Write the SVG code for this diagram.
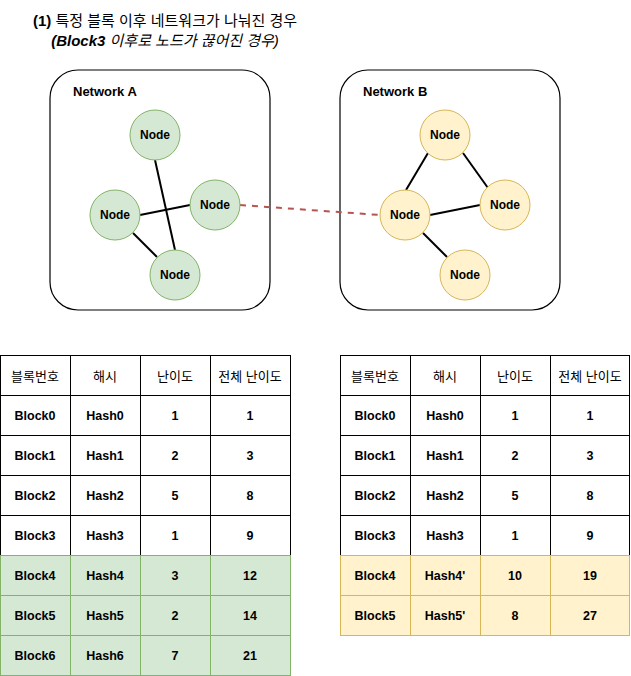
<svg xmlns="http://www.w3.org/2000/svg" width="631" height="676" viewBox="0 0 631 676">
<defs>
<style>
text{font-family:"Liberation Sans","Noto Sans CJK KR",sans-serif;text-anchor:middle;dominant-baseline:central;fill:#000}
.net{fill:#fff;stroke:#000;stroke-width:1.2}
.nl{font-size:13px;font-weight:bold;text-anchor:start}
.ga{fill:#d5e8d4;stroke:#82b366}
.yb{fill:#fff2cc;stroke:#d6b656}
.nt{font-size:12px;font-weight:bold}
.edge{stroke:#000;stroke-width:2;fill:none}
.cw{fill:#fff;stroke:#000}
.cg{fill:#d5e8d4;stroke:#82b366}
.cy{fill:#fff2cc;stroke:#d6b656}
.th{font-size:13px}
.td{font-size:12.5px;font-weight:bold}
</style>
</defs>
<rect width="631" height="676" fill="#fff"/>
<g id="title">
<text x="165" y="20" font-size="15"><tspan font-weight="bold">(1)</tspan> 특정 블록 이후 네트워크가 나눠진 경우</text>
<text x="165" y="40" font-size="15" font-style="italic"><tspan font-weight="bold">(Block3</tspan> 이후로 노드가 끊어진 경우)</text>
</g>
<g id="networkA"><rect class="net" x="50" y="70" width="220" height="240" rx="28"/><text class="nl" x="73" y="91">Network A</text></g>
<g id="networkB"><rect class="net" x="340" y="70" width="220" height="240" rx="28"/><text class="nl" x="363" y="91">Network B</text></g>
<g id="connectors">
<line class="edge" x1="155" y1="160" x2="175" y2="250"/>
<line class="edge" x1="140" y1="215" x2="190" y2="205"/>
<line class="edge" x1="133" y1="233" x2="157" y2="257"/>
<line class="edge" x1="428" y1="153" x2="406" y2="190"/>
<line class="edge" x1="463" y1="153" x2="488" y2="188"/>
<line class="edge" x1="430" y1="215" x2="480" y2="205"/>
<line class="edge" x1="423" y1="233" x2="447" y2="257"/>
<line x1="240" y1="205" x2="380" y2="215" stroke="#b85450" stroke-width="2" stroke-dasharray="6 6"/>
</g>
<g id="a1"><circle class="ga" cx="155" cy="135" r="25"/><text class="nt" x="155" y="135">Node</text></g>
<g id="a2"><circle class="ga" cx="215" cy="205" r="25"/><text class="nt" x="215" y="205">Node</text></g>
<g id="a3"><circle class="ga" cx="115" cy="215" r="25"/><text class="nt" x="115" y="215">Node</text></g>
<g id="a4"><circle class="ga" cx="175" cy="275" r="25"/><text class="nt" x="175" y="275">Node</text></g>
<g id="b1"><circle class="yb" cx="445" cy="135" r="25"/><text class="nt" x="445" y="135">Node</text></g>
<g id="b2"><circle class="yb" cx="505" cy="205" r="25"/><text class="nt" x="505" y="205">Node</text></g>
<g id="b3"><circle class="yb" cx="405" cy="215" r="25"/><text class="nt" x="405" y="215">Node</text></g>
<g id="b4"><circle class="yb" cx="465" cy="275" r="25"/><text class="nt" x="465" y="275">Node</text></g>
<g id="tableA">
<rect class="cw" x="0.5" y="355.5" width="70" height="200"/><rect class="cw" x="70.5" y="355.5" width="70" height="200"/><rect class="cw" x="140.5" y="355.5" width="70" height="200"/><rect class="cw" x="210.5" y="355.5" width="80" height="200"/>
<line x1="0" y1="395.5" x2="291" y2="395.5" stroke="#000"/><line x1="0" y1="435.5" x2="291" y2="435.5" stroke="#000"/><line x1="0" y1="475.5" x2="291" y2="475.5" stroke="#000"/><line x1="0" y1="515.5" x2="291" y2="515.5" stroke="#000"/>
<rect class="cg" x="0.5" y="555.5" width="290" height="120"/>
<line x1="0" y1="595.5" x2="291" y2="595.5" stroke="#82b366"/><line x1="0" y1="635.5" x2="291" y2="635.5" stroke="#82b366"/>
<line x1="70.5" y1="555.5" x2="70.5" y2="675.5" stroke="#82b366"/><line x1="140.5" y1="555.5" x2="140.5" y2="675.5" stroke="#82b366"/><line x1="210.5" y1="555.5" x2="210.5" y2="675.5" stroke="#82b366"/>
<text class="th" x="35" y="376">블록번호</text><text class="th" x="105" y="376">해시</text><text class="th" x="175" y="376">난이도</text><text class="th" x="250" y="376">전체 난이도</text>
<text class="td" x="35" y="416">Block0</text><text class="td" x="105" y="416">Hash0</text><text class="td" x="175" y="416">1</text><text class="td" x="250" y="416">1</text>
<text class="td" x="35" y="456">Block1</text><text class="td" x="105" y="456">Hash1</text><text class="td" x="175" y="456">2</text><text class="td" x="250" y="456">3</text>
<text class="td" x="35" y="496">Block2</text><text class="td" x="105" y="496">Hash2</text><text class="td" x="175" y="496">5</text><text class="td" x="250" y="496">8</text>
<text class="td" x="35" y="536">Block3</text><text class="td" x="105" y="536">Hash3</text><text class="td" x="175" y="536">1</text><text class="td" x="250" y="536">9</text>
<text class="td" x="35" y="576">Block4</text><text class="td" x="105" y="576">Hash4</text><text class="td" x="175" y="576">3</text><text class="td" x="250" y="576">12</text>
<text class="td" x="35" y="616">Block5</text><text class="td" x="105" y="616">Hash5</text><text class="td" x="175" y="616">2</text><text class="td" x="250" y="616">14</text>
<text class="td" x="35" y="656">Block6</text><text class="td" x="105" y="656">Hash6</text><text class="td" x="175" y="656">7</text><text class="td" x="250" y="656">21</text>
</g>
<g id="tableB">
<rect class="cw" x="340.5" y="355.5" width="70" height="200"/><rect class="cw" x="410.5" y="355.5" width="70" height="200"/><rect class="cw" x="480.5" y="355.5" width="70" height="200"/><rect class="cw" x="550.5" y="355.5" width="79" height="200"/>
<line x1="340" y1="395.5" x2="630" y2="395.5" stroke="#000"/><line x1="340" y1="435.5" x2="630" y2="435.5" stroke="#000"/><line x1="340" y1="475.5" x2="630" y2="475.5" stroke="#000"/><line x1="340" y1="515.5" x2="630" y2="515.5" stroke="#000"/>
<rect class="cy" x="340.5" y="555.5" width="289" height="80"/>
<line x1="340" y1="595.5" x2="630" y2="595.5" stroke="#d6b656"/>
<line x1="410.5" y1="555.5" x2="410.5" y2="635.5" stroke="#d6b656"/><line x1="480.5" y1="555.5" x2="480.5" y2="635.5" stroke="#d6b656"/><line x1="550.5" y1="555.5" x2="550.5" y2="635.5" stroke="#d6b656"/>
<text class="th" x="375" y="376">블록번호</text><text class="th" x="445" y="376">해시</text><text class="th" x="515" y="376">난이도</text><text class="th" x="590" y="376">전체 난이도</text>
<text class="td" x="375" y="416">Block0</text><text class="td" x="445" y="416">Hash0</text><text class="td" x="515" y="416">1</text><text class="td" x="590" y="416">1</text>
<text class="td" x="375" y="456">Block1</text><text class="td" x="445" y="456">Hash1</text><text class="td" x="515" y="456">2</text><text class="td" x="590" y="456">3</text>
<text class="td" x="375" y="496">Block2</text><text class="td" x="445" y="496">Hash2</text><text class="td" x="515" y="496">5</text><text class="td" x="590" y="496">8</text>
<text class="td" x="375" y="536">Block3</text><text class="td" x="445" y="536">Hash3</text><text class="td" x="515" y="536">1</text><text class="td" x="590" y="536">9</text>
<text class="td" x="375" y="576">Block4</text><text class="td" x="445" y="576">Hash4'</text><text class="td" x="515" y="576">10</text><text class="td" x="590" y="576">19</text>
<text class="td" x="375" y="616">Block5</text><text class="td" x="445" y="616">Hash5'</text><text class="td" x="515" y="616">8</text><text class="td" x="590" y="616">27</text>
</g>
</svg>
